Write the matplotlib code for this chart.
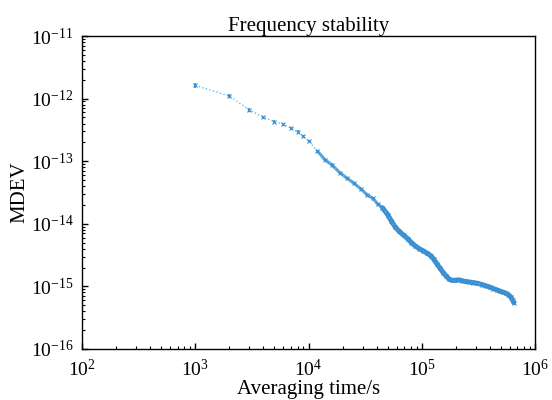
"""
Frequency stability plot (modified Allan deviation vs averaging time).
"""

import numpy as np
import matplotlib
matplotlib.use("Agg")
import matplotlib.pyplot as plt

plt.rcParams["font.family"] = ["Liberation Serif", "DejaVu Serif"]
plt.rcParams["mathtext.fontset"] = "stix"

# Averaging time (s) and MDEV
tau = [1000, 2000, 3000, 4000, 5000, 6000, 7000, 8000, 9000, 10000,
       12000, 14000, 16000, 19000, 22000, 25000, 29000, 33000, 37000, 41000,
       45000, 50000, 54000, 58000, 63000, 69000, 75000, 81000, 88000, 95000,
       103000, 111000, 120000, 128000, 136000, 145000, 155000, 165000, 175000, 185000,
       195000, 210000, 225000, 240000, 260000, 285000, 310000, 340000, 370000, 400000,
       430000, 460000, 490000, 520000, 550000, 580000, 610000, 635000, 650000]
mdev = [1.63e-12, 1.10e-12, 6.6e-13, 5.0e-13, 4.3e-13, 3.9e-13, 3.35e-13, 2.95e-13, 2.5e-13, 2.1e-13,
        1.45e-13, 1.05e-13, 8.8e-14, 6.5e-14, 5.3e-14, 4.5e-14, 3.6e-14, 2.9e-14, 2.55e-14, 2.05e-14,
        1.8e-14, 1.4e-14, 1.1e-14, 9.0e-15, 7.6e-15, 6.6e-15, 5.8e-15, 5.0e-15, 4.4e-15, 4.0e-15,
        3.7e-15, 3.4e-15, 3.1e-15, 2.7e-15, 2.3e-15, 1.95e-15, 1.65e-15, 1.45e-15, 1.3e-15, 1.25e-15,
        1.25e-15, 1.27e-15, 1.24e-15, 1.2e-15, 1.18e-15, 1.15e-15, 1.12e-15, 1.07e-15, 1.02e-15, 0.97e-15,
        0.92e-15, 0.88e-15, 0.84e-15, 0.81e-15, 0.78e-15, 0.74e-15, 0.68e-15, 0.60e-15, 0.55e-15]
# relative error bars (fraction of value)
rel_err = [0.08, 0.07, 0.06, 0.06, 0.05, 0.05, 0.05, 0.05, 0.05, 0.05,
           0.05, 0.05, 0.05, 0.05, 0.05, 0.05, 0.05, 0.05, 0.05, 0.05,
           0.05, 0.05, 0.05, 0.05, 0.05, 0.05, 0.05, 0.05, 0.05, 0.05,
           0.05, 0.05, 0.05, 0.05, 0.05, 0.05, 0.05, 0.05, 0.05, 0.05,
           0.05, 0.05, 0.05, 0.05, 0.05, 0.05, 0.05, 0.05, 0.05, 0.05,
           0.05, 0.05, 0.05, 0.05, 0.05, 0.05, 0.05, 0.05, 0.05]

LINE_COLOR = "#56c3f0"
BAR_COLOR = "#3a8fd2"

tau = np.array(tau, dtype=float)
mdev = np.array(mdev)
err = mdev * np.array(rel_err)

fig = plt.figure(figsize=(5.52, 4.0), dpi=100)
ax = fig.add_axes([0.1486, 0.1275, 0.8206, 0.7825])

ax.errorbar(tau, mdev, yerr=err, fmt=":", color=LINE_COLOR, linewidth=1.0,
            ecolor=BAR_COLOR, elinewidth=1.2, capsize=0,
            marker="x", markersize=3, markeredgecolor=BAR_COLOR, markeredgewidth=0.8)

# where points are packed closely the error bars merge into a band
mid = (tau >= 1.2e4) & (tau <= 4.5e4)
dense = tau >= 4.5e4
ax.plot(tau[mid], mdev[mid], "-", color=BAR_COLOR, linewidth=2.2, alpha=0.85,
        solid_capstyle="round")
ax.plot(tau[dense], mdev[dense], "-", color=BAR_COLOR, linewidth=3.6,
        solid_capstyle="round")

ax.set_xscale("log")
ax.set_yscale("log")
ax.set_xlim(1e2, 1e6)
ax.set_ylim(1e-16, 1e-11)

ax.set_title("Frequency stability", fontsize=15, pad=3)
ax.set_xlabel("Averaging time/s", fontsize=15, labelpad=0)
ax.set_ylabel("MDEV", fontsize=15, labelpad=1)

ax.tick_params(which="both", direction="in", top=False, right=False, labelsize=14)
ax.tick_params(which="major", length=4, width=1)
ax.tick_params(which="minor", length=2.5, width=0.8)
ax.tick_params(axis="x", pad=7)
ax.tick_params(axis="y", pad=6)
for s in ax.spines.values():
    s.set_linewidth(1.0)

fig.savefig("out.png", dpi=100)
